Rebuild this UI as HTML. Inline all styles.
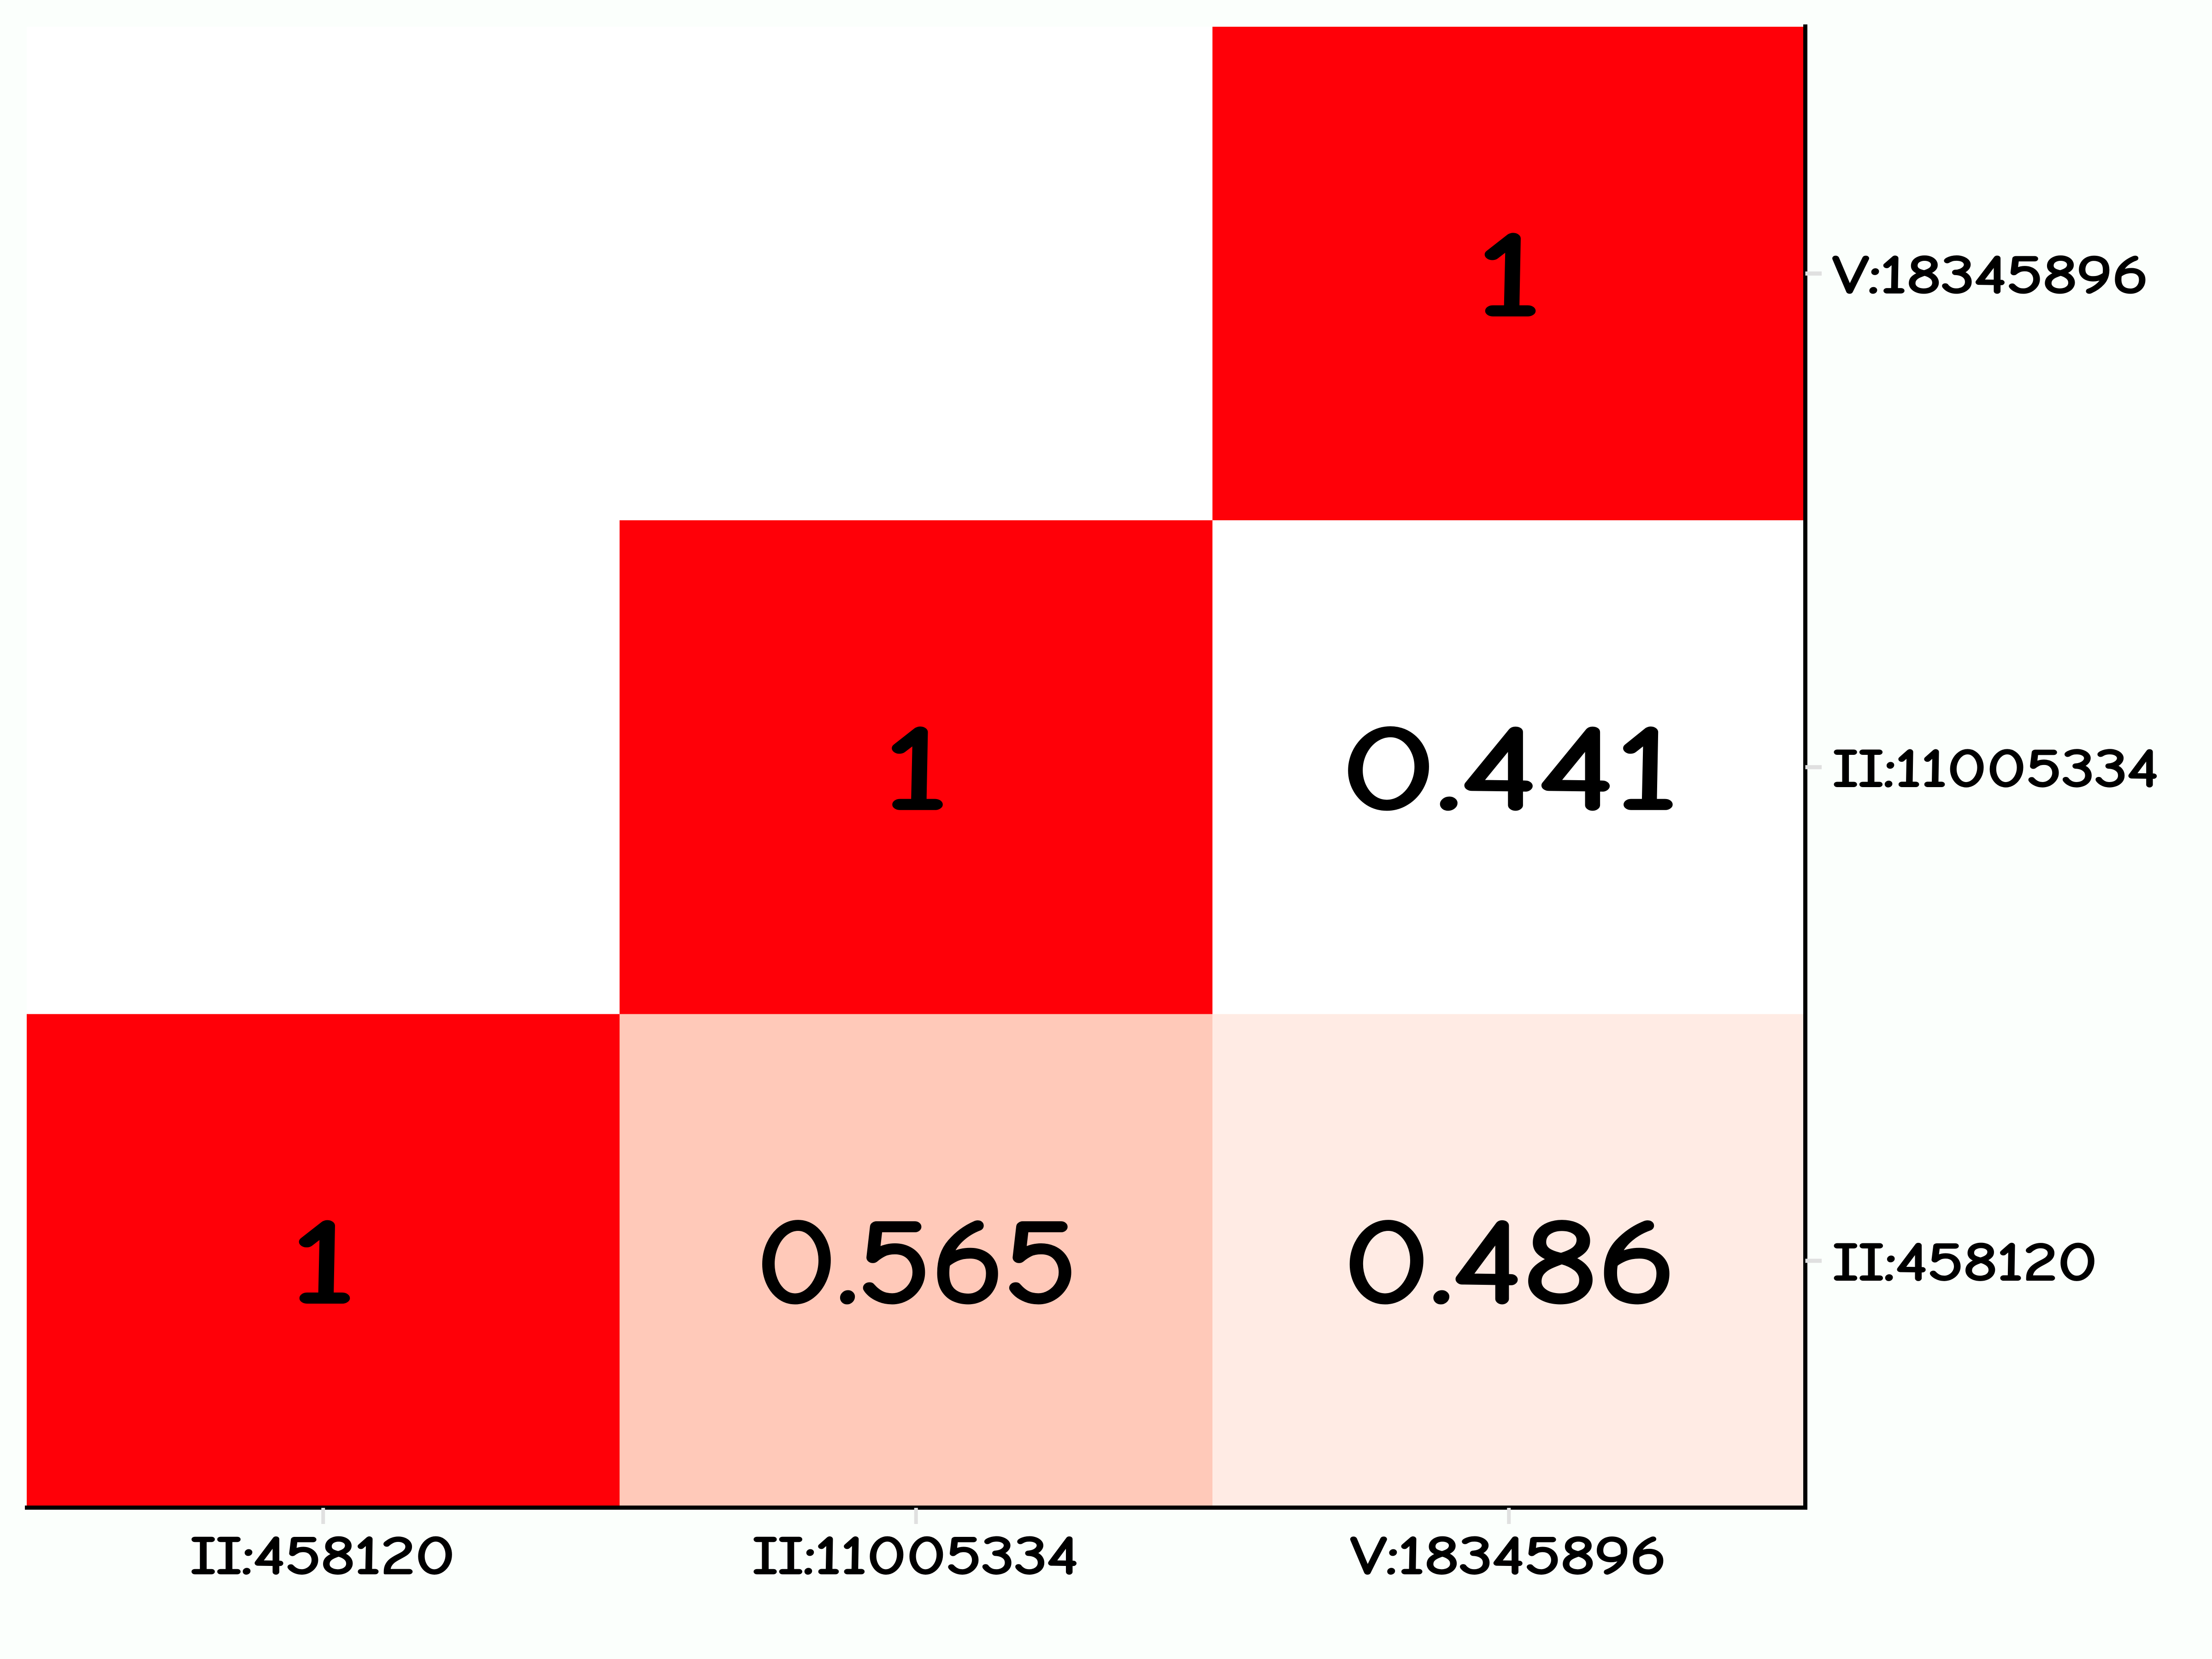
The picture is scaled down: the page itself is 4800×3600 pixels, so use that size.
<!DOCTYPE html>
<html lang="en">
<head>
<meta charset="utf-8">
<title>Pairwise LD heatmap</title>
<style>
html,body{margin:0;padding:0;background:#fbfffc;width:4800px;height:3600px;overflow:hidden}
svg{display:block}
text{font-family:"Comic Sans MS","Comic Neue","Liberation Sans",cursive,sans-serif;fill:#000;stroke:#000;stroke-linejoin:round}
</style>
</head>
<body>
<svg id="chart" xmlns="http://www.w3.org/2000/svg" width="4800" height="3600" viewBox="0 0 4800 3600">
<rect x="0" y="0" width="4800" height="3600" fill="#fbfffc"/>
<rect x="58" y="58" width="3859.5" height="3213.5" fill="#ffffff"/>
<g id="cells"></g>
<g id="spines">
<rect x="54" y="3267" width="3868" height="9" fill="#000"/>
<rect x="3913" y="53" width="9" height="3223" fill="#000"/>
</g>
<g id="ticks"></g>
<g id="labels"></g>
<g id="values"></g>
</svg>
<script>
const xCategories = ['II:458120', 'II:11005334', 'V:18345896'];
const yCategories = ['II:458120', 'II:11005334', 'V:18345896'];
const rowII458120 = [1, 0.565, 0.486];
const rowII11005334 = [null, 1, 0.441];
const rowV18345896 = [null, null, 1];
const colorDomain = [0.441, 0.486, 0.565, 1];
const colorRange = [[255,255,255], [255,235,228], [255,201,185], [255,0,8]];

const matrix = [rowII458120, rowII11005334, rowV18345896];
const NS = 'http://www.w3.org/2000/svg';
const plot = {left: 58, right: 3917.5, top: 58, bottom: 3271.5};
const bandW = (plot.right - plot.left) / xCategories.length;
const bandH = (plot.bottom - plot.top) / yCategories.length;
const xBand = i => plot.left + i * bandW;
const yBand = i => plot.bottom - (i + 1) * bandH;
const charEm = {'.': 0.27, ':': 0.36, 'I': 0.46, 'V': 0.65, '1': 0.55, '4': 0.72, '5': 0.615, '6': 0.62};
const textWidth = (s, size) => [...s].reduce((sum, c) => sum + (charEm[c] || 0.61), 0) * size;

function colorOf(v) {
  let k = 0;
  while (k < colorDomain.length - 2 && v > colorDomain[k + 1]) k++;
  const t = Math.max(0, Math.min(1, (v - colorDomain[k]) / (colorDomain[k + 1] - colorDomain[k])));
  const c = colorRange[k].map((a, j) => Math.round(a + (colorRange[k + 1][j] - a) * t));
  return 'rgb(' + c.join(',') + ')';
}

function addText(parent, str, x, y, size, anchor, sw) {
  const t = document.createElementNS(NS, 'text');
  t.textContent = str;
  t.setAttribute('x', x);
  t.setAttribute('y', y);
  t.setAttribute('font-size', size);
  t.setAttribute('text-anchor', anchor);
  t.setAttribute('stroke-width', sw);
  t.setAttribute('textLength', textWidth(str, size).toFixed(1));
  t.setAttribute('lengthAdjust', 'spacingAndGlyphs');
  parent.appendChild(t);
  return t;
}

const cellsG = document.getElementById('cells');
const valuesG = document.getElementById('values');
const ticksG = document.getElementById('ticks');
const labelsG = document.getElementById('labels');

matrix.forEach((row, r) => {
  row.forEach((v, c) => {
    if (v === null) return;
    const rect = document.createElementNS(NS, 'rect');
    rect.setAttribute('x', xBand(c));
    rect.setAttribute('y', yBand(r));
    rect.setAttribute('width', bandW);
    rect.setAttribute('height', bandH);
    rect.setAttribute('fill', colorOf(v));
    rect.setAttribute('shape-rendering', 'crispEdges');
    
    
    cellsG.appendChild(rect);
    const label = addText(valuesG, String(v), xBand(c) + bandW / 2 + 1, yBand(r) + bandH / 2 + 89, 256, 'middle', 8);
    
    
  });
});

xCategories.forEach((name, i) => {
  const cx = xBand(i) + bandW / 2;
  const tick = document.createElementNS(NS, 'rect');
  tick.setAttribute('x', cx - 4);
  tick.setAttribute('y', 3272);
  tick.setAttribute('width', 8);
  tick.setAttribute('height', 35);
  tick.setAttribute('fill', '#e0e0e0');
  
  
  ticksG.appendChild(tick);
  const label = addText(labelsG, name, cx - 1, 3414, 115, 'middle', 4.5);
  
  
});

yCategories.forEach((name, i) => {
  const cy = yBand(i) + bandH / 2;
  const tick = document.createElementNS(NS, 'rect');
  tick.setAttribute('x', 3917.5);
  tick.setAttribute('y', cy - 4.5);
  tick.setAttribute('width', 35.5);
  tick.setAttribute('height', 9);
  tick.setAttribute('fill', '#e0e0e0');
  
  
  ticksG.appendChild(tick);
  const label = addText(labelsG, name, 3977, cy + 41, 115, 'start', 4.5);
  
  
});
</script>
</body>
</html>
